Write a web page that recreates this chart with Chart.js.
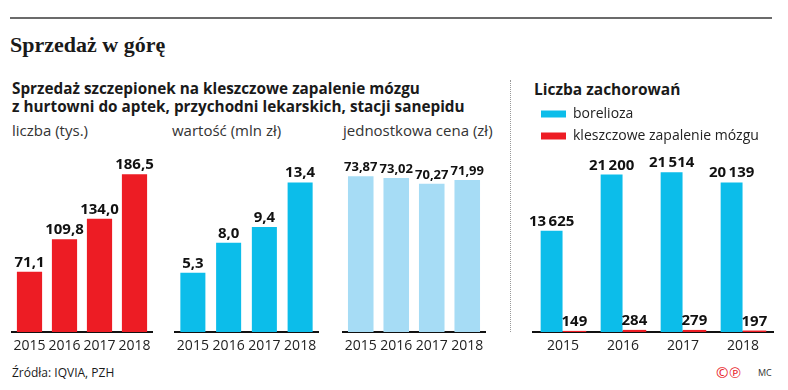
<!DOCTYPE html>
<html>
<head>
<meta charset="utf-8">
<script src="https://cdn.jsdelivr.net/npm/chart.js@4.4.1/dist/chart.umd.min.js"></script>
<style>
  body { margin: 0; background: #fff; font-family: "Open Sans", sans-serif; color: #1a1a1a; }
  #page { position: relative; width: 788px; height: 390px; overflow: hidden; }
  .abs { position: absolute; white-space: nowrap; }
  .box { position: absolute; }
  #rule { left: 10px; top: 17px; width: 762px; height: 0; border-top: 2px solid #6b6b6b; }
  #title { left: 10px; top: 32px; font-family: "Liberation Serif", serif; font-weight: bold; font-size: 22px; }
  .sub { font-weight: bold; font-size: 15.3px; }
  .unit { font-size: 15px; color: #333; top: 120px; }
  #sep { left: 510px; top: 80px; height: 252px; border-left: 1px dotted #999; }
  #src { left: 12px; top: 364px; font-size: 12px; }
  #cp { left: 716px; top: 362px; color: #e8232b; font-size: 15px; letter-spacing: 1px; }
  #mc { left: 758px; top: 366px; font-size: 9px; color: #333; }
</style>
</head>
<body>
<div id="page">
  <div class="abs" id="rule"></div>
  <div class="abs" id="title">Sprzedaż w górę</div>
  <div class="abs sub" style="left:12px; top:78px;">Sprzedaż szczepionek na kleszczowe zapalenie mózgu</div>
  <div class="abs sub" style="left:12px; top:96px;">z hurtowni do aptek, przychodni lekarskich, stacji sanepidu</div>
  <div class="abs sub" style="left:534px; top:78px; font-size:15.5px;">Liczba zachorowań</div>
  <div class="abs unit" style="left:12px;">liczba (tys.)</div>
  <div class="abs unit" style="left:172px;">wartość (mln zł)</div>
  <div class="abs unit" style="left:343px;">jednostkowa cena (zł)</div>
  <div class="abs" id="sep"></div>
  <div class="box" style="left:2px; top:140px; width:160px; height:220px;"><canvas id="c1"></canvas></div>
  <div class="box" style="left:165px; top:140px; width:163px; height:220px;"><canvas id="c2"></canvas></div>
  <div class="box" style="left:333px; top:140px; width:162px; height:220px;"><canvas id="c3"></canvas></div>
  <div class="box" style="left:523px; top:99px; width:260px; height:261px;"><canvas id="c4"></canvas></div>
  <div class="abs" id="src">Źródła: IQVIA, PZH</div>
  <div class="abs" id="cp">©℗</div>
  <div class="abs" id="mc">MC</div>
</div>
<script>
const years = ['2015', '2016', '2017', '2018'];
const doses = [71.1, 109.8, 134.0, 186.5];       // liczba (tys.)
const salesValue = [5.3, 8.0, 9.4, 13.4];        // wartość (mln zł)
const unitPrice = [73.87, 73.02, 70.27, 71.99];  // jednostkowa cena (zł)
const borelioza = [13625, 21200, 21514, 20139];
const kzm = [149, 284, 279, 197];

const RED = '#ed1c24';
const BLUE = '#0cbdea';
const LIGHT = '#a6dcf5';

const fmtDec = (d) => (v) => v.toFixed(d).replace('.', ',');
const fmtThousands = (v) => String(v).replace(/\B(?=(\d{3})+(?!\d))/g, '\u2009');

// draw value above each bar
const valueLabels = {
    id: 'valueLabels',
    afterDatasetsDraw(chart, args, opts) {
        const ctx = chart.ctx;
        ctx.save();
        ctx.font = 'bold ' + opts.size + 'px "Open Sans", sans-serif';
        ctx.fillStyle = '#111';
        ctx.textAlign = 'center';
        ctx.textBaseline = 'alphabetic';
        chart.data.datasets.forEach((ds, i) => {
            const meta = chart.getDatasetMeta(i);
            meta.data.forEach((bar, j) => {
                ctx.fillText(opts.format(ds.data[j]), bar.x, bar.y - 5);
            });
        });
        ctx.restore();
    }
};

const xAxis = {
    grid: { display: false, drawTicks: false },
    border: { display: true, color: '#111', width: 2 },
    ticks: {
        color: '#222', font: { family: 'Open Sans', size: 14 }, padding: 6,
        maxRotation: 0, minRotation: 0, autoSkip: false
    },
    afterFit: (s) => { s.height = 28; }
};

const makeBars = (id, data, color, max, size, format, barPct) => {
    return new Chart(document.getElementById(id), {
        type: 'bar',
        data: {
            labels: years,
            datasets: [{ data: data, backgroundColor: color, barPercentage: barPct, categoryPercentage: 1 }]
        },
        options: {
            responsive: true,
            maintainAspectRatio: false,
            animation: false,
            layout: { padding: { left: 10, right: 10, top: 0, bottom: 0 } },
            plugins: {
                legend: { display: false },
                tooltip: { enabled: false },
                valueLabels: { size: size, format: format }
            },
            scales: {
                x: xAxis,
                y: { display: false, min: 0, max: max }
            }
        },
        plugins: [valueLabels]
    });
};

makeBars('c1', doses, RED, 227, 15, fmtDec(1), 0.72);
makeBars('c2', salesValue, BLUE, 17.2, 15, fmtDec(1), 0.7);
makeBars('c3', unitPrice, LIGHT, 91, 13, fmtDec(2), 0.72);

new Chart(document.getElementById('c4'), {
    type: 'bar',
    data: {
        labels: years,
        datasets: [
            { label: 'borelioza', data: borelioza, backgroundColor: BLUE, barPercentage: 0.96, categoryPercentage: 0.76 },
            { label: 'kleszczowe zapalenie mózgu', data: kzm, backgroundColor: RED, barPercentage: 1.04, categoryPercentage: 0.76 }
        ]
    },
    options: {
        responsive: true,
        maintainAspectRatio: false,
        animation: false,
        layout: { padding: { left: 10, right: 10, top: 0, bottom: 0 } },
        plugins: {
            legend: {
                display: true,
                position: 'top',
                align: 'start',
                labels: {
                    boxWidth: 25, boxHeight: 7, padding: 8,
                    color: '#222',
                    font: { family: 'Open Sans', size: 14 }
                }
            },
            tooltip: { enabled: false },
            valueLabels: { size: 15, format: fmtThousands }
        },
        scales: {
            x: xAxis,
            y: { display: false, min: 0, max: 24100 }
        }
    },
    plugins: [valueLabels]
});
</script>
</body>
</html>
